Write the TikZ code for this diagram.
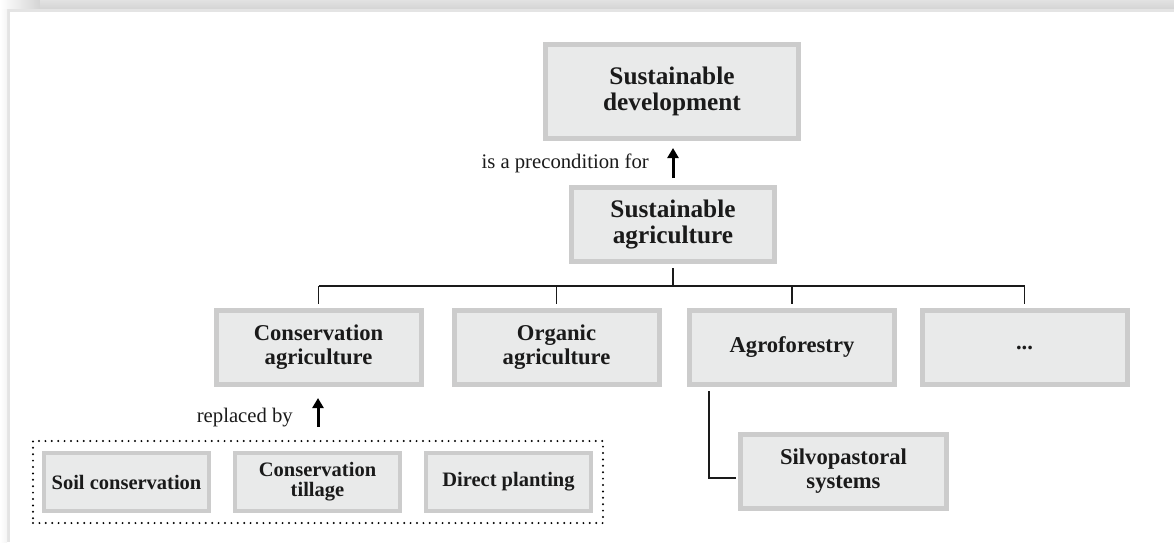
\documentclass[tikz,border=0pt]{standalone}
\usepackage{fontspec}
\setmainfont{Liberation Serif}
\usetikzlibrary{arrows.meta}
\definecolor{boxfill}{RGB}{233,234,234}
\definecolor{boxline}{RGB}{204,204,204}
\definecolor{ink}{RGB}{26,26,26}
\definecolor{band}{RGB}{212,212,212}
\definecolor{bandtop}{RGB}{226,226,226}
\definecolor{frameline}{RGB}{228,228,228}
\begin{document}
\begin{tikzpicture}[x=1pt,y=-1pt,
  bigbox/.style={draw=boxline, fill=boxfill, line width=5pt, inner sep=0pt, outer sep=0pt,
    align=center, text=ink, font=\bfseries\fontsize{25.3}{26}\selectfont},
  midbox/.style={bigbox, font=\bfseries\fontsize{22.6}{24}\selectfont,
    minimum width=205pt, minimum height=74pt},
  smallbox/.style={bigbox, line width=4pt, font=\bfseries\fontsize{20.5}{20}\selectfont,
    minimum width=165pt, minimum height=58pt},
  lbl/.style={text=ink, font=\fontsize{20.7}{24}\selectfont, inner sep=0pt},
  link/.style={draw=ink, line width=1.1pt},
  bigarrow/.style={draw=black, line width=3pt, -{Triangle[length=10pt,width=11pt]}},
  group/.style={draw=black, line width=2.2pt, line cap=round, dash pattern=on 0pt off 6.4pt,
    inner sep=0pt, minimum width=570pt, minimum height=82pt}
]
\useasboundingbox (0,0) rectangle (1174,542);
% frame
\fill[left color=white, right color=band] (0,0) rectangle (40,9);
\fill[top color=bandtop, bottom color=band] (40,0) rectangle (1174,9);
\fill[frameline] (7,9) rectangle (1174,12);
\fill[frameline] (7,9) rectangle (10,542);
\fill[left color=white, right color=black!4] (0,9) rectangle (7,542);

% boxes
\node[bigbox, minimum width=253pt, minimum height=94pt] (sd) at (672,91.5) {Sustainable\\development};
\node[bigbox, minimum width=203pt, minimum height=74pt] (sa) at (673,224.5) {Sustainable\\agriculture};
\node[midbox] (ca) at (318.5,347.5) {Conservation\\agriculture};
\node[midbox] (oa) at (556.5,347.5) {Organic\\agriculture};
\node[midbox] (af) at (792,347.5) {Agroforestry};
\node[midbox] (more) at (1024.5,347.5) {...};
\node[midbox, minimum width=206pt] (sp) at (843.5,471.5) {Silvopastoral\\systems};
\node[smallbox] (soil) at (126.5,482) {Soil conservation};
\node[smallbox] (till) at (317.5,482) {Conservation\\tillage};
\node[smallbox] (direct) at (508.5,482) {Direct planting};
\node[group] (grp) at (318,482) {};

% labels
\node[lbl, anchor=east] (l1) at (649,163) {is a precondition for};
\node[lbl, anchor=east] (l2) at (293,418) {replaced by};

% arrows
\draw[bigarrow, shorten <=9.5pt, shorten >=9.5pt] (sa.north) -- (sa.north |- sd.south);
\draw[bigarrow, shorten <=13pt, shorten >=13.5pt] (grp.north) -- (grp.north |- ca.south);

% tree connectors
\coordinate (bus) at (0,286);
\draw[link] (sa.south |- 0,268) -- (sa.south |- bus);
\draw[link] (ca.north |- bus) -- (more.north |- bus);
\foreach \n in {ca,oa,af,more} \draw[link] (\n.north |- bus) -- (\n.north |- 0,304);
\draw[link] ([xshift=19.5pt, yshift=-6.5pt]af.south west) |- ([xshift=-4.5pt, yshift=-6.5pt]sp.west);
\end{tikzpicture}
\end{document}
